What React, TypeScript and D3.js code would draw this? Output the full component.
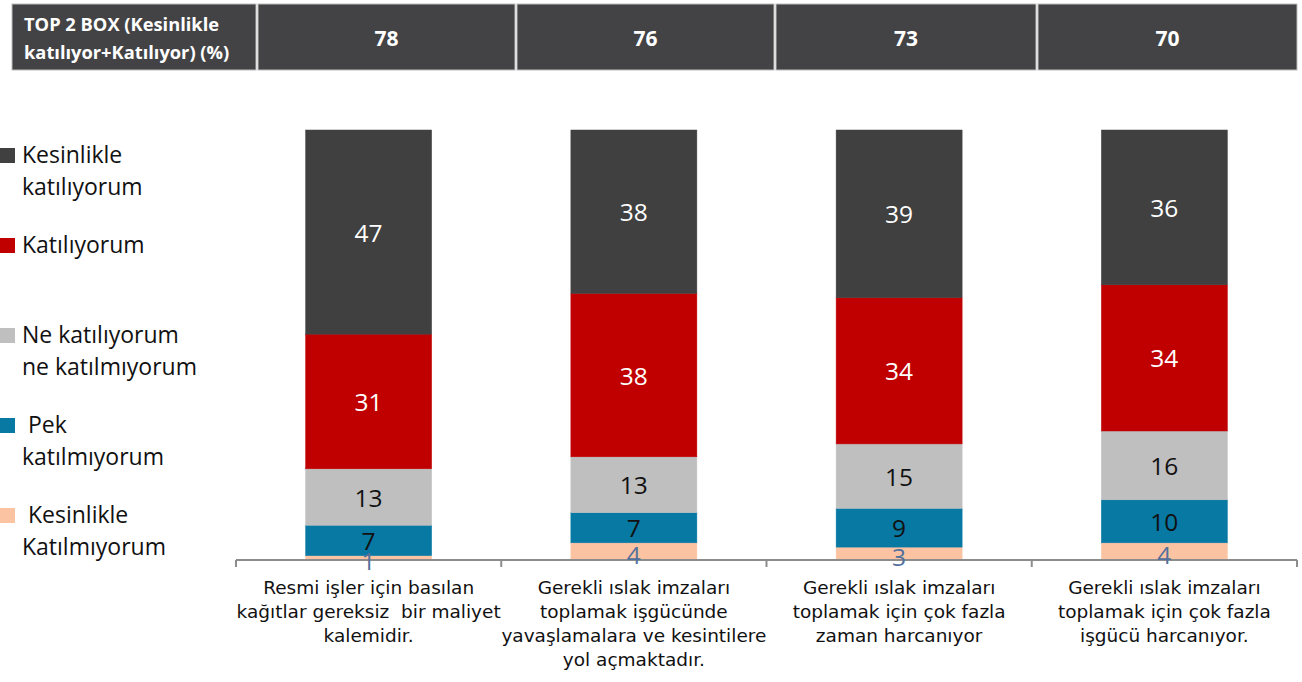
import React from "react";
import * as d3 from "d3";

const categories = ["c1", "c2", "c3", "c4"];
const categoryLabels = [
  ["Resmi işler için basılan", "kağıtlar gereksiz  bir maliyet", "kalemidir."],
  ["Gerekli ıslak imzaları", "toplamak işgücünde", "yavaşlamalara ve kesintilere", "yol açmaktadır."],
  ["Gerekli ıslak imzaları", "toplamak için çok fazla", "zaman harcanıyor"],
  ["Gerekli ıslak imzaları", "toplamak için çok fazla", "işgücü harcanıyor."],
];
const seriesKeys = ["kesinlikleKatilmiyorum", "pekKatilmiyorum", "neNe", "katiliyorum", "kesinlikleKatiliyorum"];
const kesinlikleKatilmiyorum = [1, 4, 3, 4];
const pekKatilmiyorum = [7, 7, 9, 10];
const neNe = [13, 13, 15, 16];
const katiliyorum = [31, 38, 34, 34];
const kesinlikleKatiliyorum = [47, 38, 39, 36];
const top2Box = [78, 76, 73, 70];
const headerTitle = ["TOP 2 BOX (Kesinlikle", "katılıyor+Katılıyor) (%)"];
const legendItems = [
  { key: "kesinlikleKatiliyorum", lines: ["Kesinlikle", "katılıyorum"] },
  { key: "katiliyorum", lines: ["Katılıyorum"] },
  { key: "neNe", lines: ["Ne katılıyorum", "ne katılmıyorum"] },
  { key: "pekKatilmiyorum", lines: [" Pek", "katılmıyorum"] },
  { key: "kesinlikleKatilmiyorum", lines: [" Kesinlikle", "Katılmıyorum"] },
];

const colors: Record<string, string> = {
  kesinlikleKatiliyorum: "#404040",
  katiliyorum: "#c00000",
  neNe: "#bfbfbf",
  pekKatilmiyorum: "#0779a3",
  kesinlikleKatilmiyorum: "#fcc3a2",
};
const labelColors: Record<string, string> = {
  kesinlikleKatiliyorum: "#ffffff",
  katiliyorum: "#ffffff",
  neNe: "#111111",
  pekKatilmiyorum: "#111111",
  kesinlikleKatilmiyorum: "#52709c",
};

const valuesByKey: Record<string, number[]> = {
  kesinlikleKatilmiyorum,
  pekKatilmiyorum,
  neNe,
  katiliyorum,
  kesinlikleKatiliyorum,
};

const W = 1302;
const H = 682;
const axisY = 560;
const topY = 130;
const x0 = 236;
const x1 = 1297;
const legendY = [148, 238, 328, 418, 508];

export default function App() {
  const table = categories.map((c, i) => {
    const row: any = { cat: c };
    seriesKeys.forEach((k) => (row[k] = valuesByKey[k][i]));
    return row;
  });
  const stack = d3.stack<any>().keys(seriesKeys).offset(d3.stackOffsetExpand);
  const series = stack(table);

  const x = d3.scaleBand<string>().domain(categories).range([x0, x1]).paddingInner(0.525).paddingOuter(0.2625);
  const y = d3.scaleLinear().domain([0, 1]).range([axisY, topY]);
  const step = x.step();

  const headerEdges = [11, 257, 516, 775, 1037, 1298];

  const font = "'Open Sans', 'Noto Sans', sans-serif";
  const labelFont = "'DejaVu Sans', Verdana, sans-serif";

  return (
    <svg width={W} height={H} style={{ position: "absolute", left: 0, top: 0, background: "#fff" }}>
      {/* header */}
      {headerEdges.slice(0, -1).map((e, i) => (
        <rect key={"h" + i} x={e + 1} y={4} width={headerEdges[i + 1] - e - 2} height={66} fill="#434345" stroke="#bdbdbd" strokeWidth={1} />
      ))}
      <text x={24} y={31} fill="#fff" fontFamily={font} fontWeight={700} fontSize={18.3}>
        {headerTitle[0]}
      </text>
      <text x={24} y={59} fill="#fff" fontFamily={font} fontWeight={700} fontSize={18.3}>
        {headerTitle[1]}
      </text>
      {top2Box.map((v, i) => (
        <text
          key={"t" + i}
          x={(headerEdges[i + 1] + headerEdges[i + 2]) / 2}
          y={38}
          fill="#fff"
          fontFamily={font}
          fontWeight={700}
          fontSize={21}
          textAnchor="middle"
          dominantBaseline="central"
        >
          {v}
        </text>
      ))}

      {/* bars */}
      {series.map((s) => (
        <g key={s.key} fill={colors[s.key]}>
          {s.map((d, i) => (
            <rect
              key={i}
              x={x(categories[i])}
              y={y(d[1])}
              width={x.bandwidth()}
              height={y(d[0]) - y(d[1])}
              stroke={colors[s.key]}
              strokeWidth={0.5}
            />
          ))}
        </g>
      ))}

      {/* axis */}
      <line x1={x0} x2={x1} y1={axisY} y2={axisY} stroke="#8c8c8c" strokeWidth={2} />
      {d3.range(categories.length + 1).map((i) => (
        <line key={"tk" + i} x1={x0 + i * step} x2={x0 + i * step} y1={axisY} y2={axisY + 7} stroke="#8c8c8c" strokeWidth={2} />
      ))}

      {/* value labels */}
      {series.map((s) => (
        <g key={"l" + s.key}>
          {s.map((d, i) => (
            <text
              key={i}
              x={(x(categories[i]) as number) + x.bandwidth() / 2}
              y={(y(d[0]) + y(d[1])) / 2 + (s.key === "kesinlikleKatilmiyorum" ? 3 : 0)}
              fill={labelColors[s.key]}
              fontFamily={font}
              fontSize={24.5}
              textAnchor="middle"
              dominantBaseline="central"
            >
              {valuesByKey[s.key][i]}
            </text>
          ))}
        </g>
      ))}

      {/* category labels */}
      {categoryLabels.map((lines, i) => (
        <text key={"c" + i} textAnchor="middle" fontFamily={labelFont} fontSize={18.5} fill="#111">
          {lines.map((ln, j) => (
            <tspan key={j} x={(x(categories[i]) as number) + x.bandwidth() / 2} y={594 + j * 24} style={{ whiteSpace: "pre" }}>
              {ln}
            </tspan>
          ))}
        </text>
      ))}

      {/* legend */}
      {legendItems.map((it, i) => (
        <g key={"lg" + i}>
          <rect x={0} y={legendY[i]} width={15} height={15} fill={colors[it.key]} />
          {it.lines.map((ln, j) => (
            <text key={j} x={22} y={legendY[i] + 15 + j * 32} fontFamily={font} fontSize={23} fill="#111" style={{ whiteSpace: "pre" }}>
              {ln}
            </text>
          ))}
        </g>
      ))}
    </svg>
  );
}
